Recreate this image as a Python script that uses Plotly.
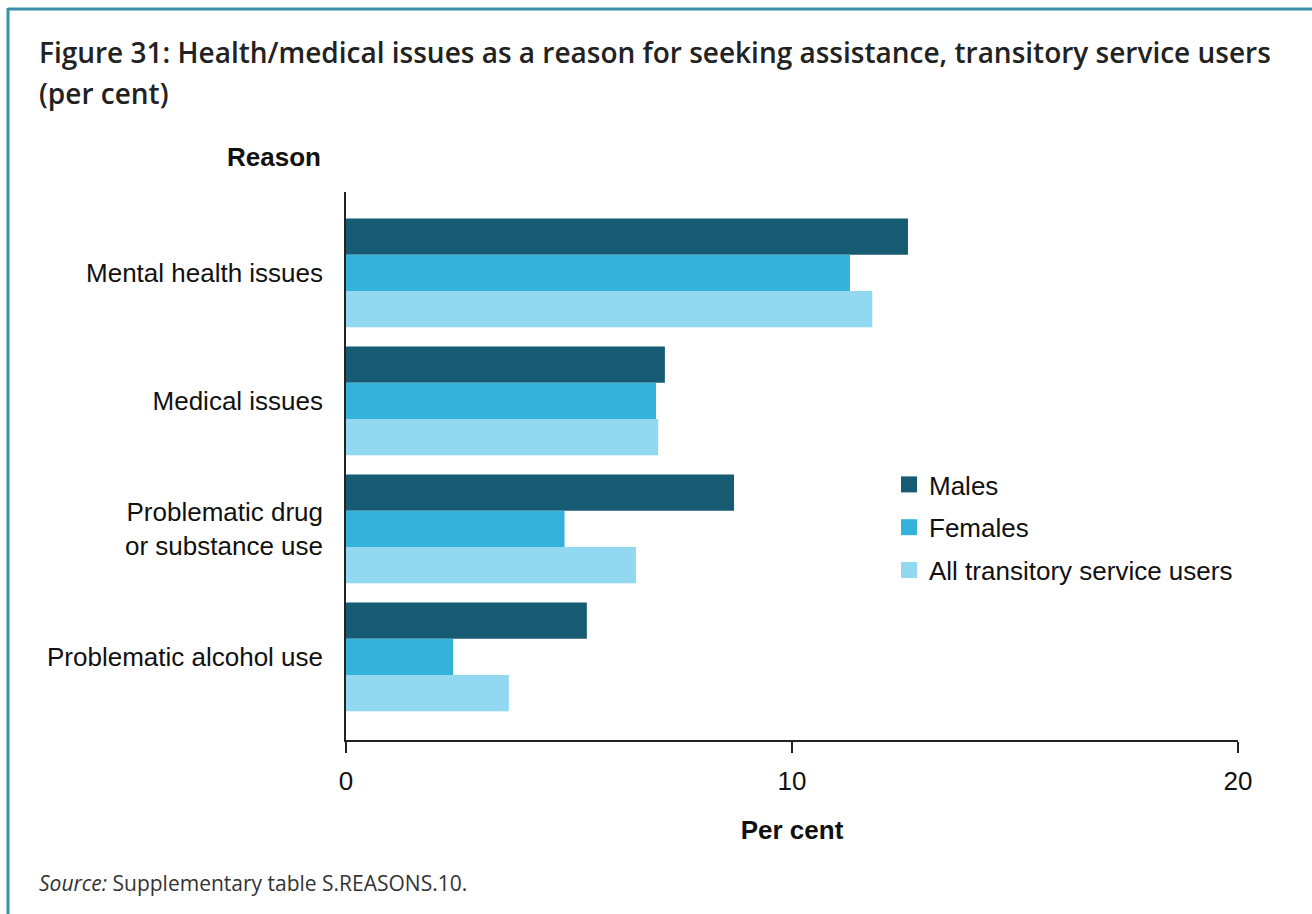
import plotly.graph_objects as go

W, H = 1312, 914
L, R, T, B = 346, 74, 192, 174

reasons = [
    "Mental health issues",
    "Medical issues",
    "Problematic drug<br>or substance use",
    "Problematic alcohol use",
]
males = [12.6, 7.15, 8.7, 5.4]
females = [11.3, 6.95, 4.9, 2.4]
all_users = [11.8, 7.0, 6.5, 3.65]

series = [
    ("Males", males, "#175b72"),
    ("Females", females, "#35b2dc"),
    ("All transitory service users", all_users, "#91d8f0"),
]
x_ticks = [0, 10, 20]

ARIAL = "Arial, Liberation Sans, sans-serif"
OPEN = "Open Sans, sans-serif"
FRAME = "#3a8fa8"

fig = go.Figure()
for i, (name, vals, col) in enumerate(series):
    fig.add_bar(
        name=name, y=reasons, x=vals, orientation="h",
        marker=dict(color=col, line=dict(width=0)),
        showlegend=False,
    )
# legend entries with bigger square swatches
for i, (name, vals, col) in enumerate(series):
    fig.add_scatter(
        name=name, x=[None], y=[None], mode="markers",
        marker=dict(symbol="square", size=16, color=col, line=dict(width=0)),
        legendgroup=str(i),
    )

pw, ph = W - L - R, H - T - B


def px_x(p):
    return (p - L) / pw


def px_y(p):
    return (H - B - p) / ph


fig.update_layout(
    width=W, height=H,
    margin=dict(l=L, r=R, t=T, b=B),
    paper_bgcolor="white", plot_bgcolor="white",
    barmode="group", bargap=0.15, bargroupgap=0,
    showlegend=True,
    legend=dict(
        x=px_x(889), y=px_y(461), xanchor="left", yanchor="top",
        font=dict(family=ARIAL, size=26, color="#111"),
        traceorder="grouped", tracegroupgap=6, itemsizing="trace",
        bgcolor="rgba(0,0,0,0)",
    ),
    xaxis=dict(
        range=[0, 20], tickvals=x_ticks, showgrid=False, zeroline=False,
        showline=True, linecolor="#222", linewidth=1.5,
        ticks="outside", ticklen=11, tickcolor="#222", tickwidth=1.5,
        ticklabelstandoff=6,
        tickfont=dict(family=ARIAL, size=26, color="#111"),
        title=dict(text="<b>Per cent</b>", standoff=26,
                   font=dict(family=ARIAL, size=26, color="#111")),
    ),
    yaxis=dict(
        range=[3.65, -0.633], showgrid=False, zeroline=False,
        showline=True, linecolor="#222", linewidth=1.5,
        ticks="", ticklabelstandoff=16,
        tickfont=dict(family=ARIAL, size=26, color="#111"),
    ),
)

# titles and source text
fig.add_annotation(
    xref="paper", yref="paper", x=px_x(37), y=px_y(52), xanchor="left", yanchor="middle",
    text="Figure 31: Health/medical issues as a reason for seeking assistance, transitory service users",
    showarrow=False, font=dict(family=OPEN, size=28, color="#222", weight=600),
)
fig.add_annotation(
    xref="paper", yref="paper", x=px_x(37), y=px_y(93), xanchor="left", yanchor="middle",
    text="(per cent)", showarrow=False,
    font=dict(family=OPEN, size=28, color="#222", weight=600),
)
fig.add_annotation(
    xref="paper", yref="paper", x=px_x(323), y=px_y(157), xanchor="right", yanchor="middle",
    text="<b>Reason</b>", showarrow=False,
    font=dict(family=ARIAL, size=26, color="#111"),
)
fig.add_annotation(
    xref="paper", yref="paper", x=px_x(37), y=px_y(883), xanchor="left", yanchor="middle",
    text="<i>Source:</i> Supplementary table S.REASONS.10.", showarrow=False,
    font=dict(family=OPEN, size=21, color="#333"),
)

# teal frame around the figure (top and left edges visible)
fig.add_shape(type="line", xref="paper", yref="paper",
              x0=px_x(8), x1=px_x(W + 5), y0=px_y(9), y1=px_y(9),
              line=dict(color=FRAME, width=3))
fig.add_shape(type="line", xref="paper", yref="paper",
              x0=px_x(8), x1=px_x(8), y0=px_y(8), y1=px_y(H + 5),
              line=dict(color=FRAME, width=3))

fig.write_html("out.html", config={"displayModeBar": False},
               post_script="document.body.style.margin='0';")
